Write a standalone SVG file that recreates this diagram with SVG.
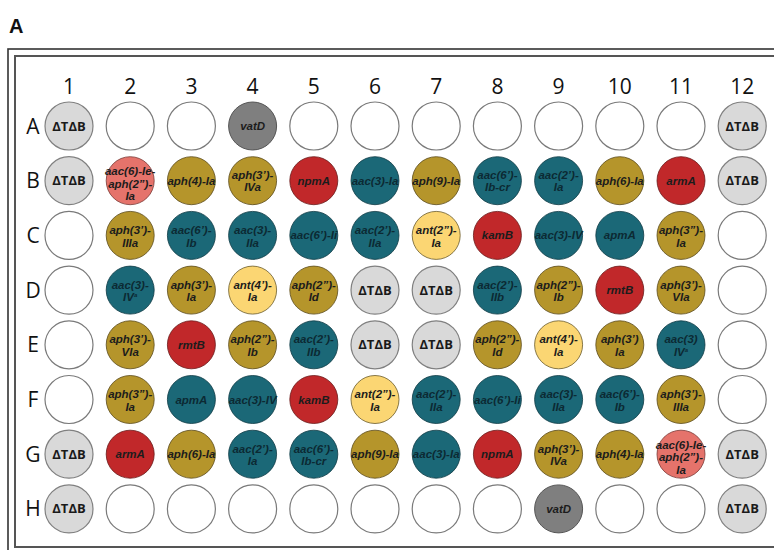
<svg xmlns="http://www.w3.org/2000/svg" width="774" height="550" viewBox="0 0 774 550">
<style>
.frame{fill:none;stroke:#333;stroke-width:1.6}
.frame2{fill:none;stroke:#555;stroke-width:2}
.e{fill:#fff;stroke:#7a7a7a;stroke-width:1.2}
.g{fill:#d9d9d9;stroke:#808080;stroke-width:1.2}
.dg{fill:#7f7f7f;stroke:#555;stroke-width:1}
.gold{fill:#b5952b;stroke:#5a4a1a;stroke-width:0.8}
.teal{fill:#1b6877;stroke:#0e3a44;stroke-width:0.8}
.red{fill:#c1282a;stroke:#6a1a1a;stroke-width:0.8}
.yel{fill:#fbd673;stroke:#6a5a2a;stroke-width:0.8}
.sal{fill:#e5736b;stroke:#7a3a36;stroke-width:0.8}
.lab{font-family:"Liberation Sans",Arial,sans-serif;font-size:11.5px;font-weight:bold;font-style:italic;fill:#1c1c1c;text-anchor:middle}
.lt{fill:#0c2a33}
.dt{font-family:"Open Sans","Liberation Sans",sans-serif;font-size:13px;font-weight:bold;fill:#1a1a1a;text-anchor:middle}
.hd{font-family:"Open Sans","Liberation Sans",sans-serif;font-size:21px;fill:#111;text-anchor:middle}
.ttl{font-family:"Liberation Sans",Arial,sans-serif;font-size:20px;font-weight:bold;fill:#111}
</style>
<rect width="774" height="550" fill="#fff"/>
<text class="ttl" x="9" y="33">A</text>
<rect class="frame" x="8" y="49" width="800" height="510"/>
<rect class="frame2" x="15" y="56" width="800" height="491"/>
<g id="colheads">
<text class="hd" x="69" y="94">1</text><text class="hd" x="130.2" y="94">2</text><text class="hd" x="191.4" y="94">3</text><text class="hd" x="252.6" y="94">4</text><text class="hd" x="313.8" y="94">5</text><text class="hd" x="375" y="94">6</text><text class="hd" x="436.2" y="94">7</text><text class="hd" x="497.4" y="94">8</text><text class="hd" x="558.6" y="94">9</text><text class="hd" x="619.8" y="94">10</text><text class="hd" x="681" y="94">11</text><text class="hd" x="742.2" y="94">12</text>
</g>
<g id="rowheads">
<text class="hd" x="33" y="133.5">A</text><text class="hd" x="33" y="188.2">B</text><text class="hd" x="33" y="242.9">C</text><text class="hd" x="33" y="297.6">D</text><text class="hd" x="33" y="352.3">E</text><text class="hd" x="33" y="407">F</text><text class="hd" x="33" y="461.7">G</text><text class="hd" x="33" y="516.4">H</text>
</g>
<!-- Row A y=126 -->
<g id="A1"><circle class="g" cx="69" cy="126" r="24"/><text class="dt" x="69" y="130.5">ΔTΔB</text></g>
<g id="A2"><circle class="e" cx="130.2" cy="126" r="24"/></g>
<g id="A3"><circle class="e" cx="191.4" cy="126" r="24"/></g>
<g id="A4"><circle class="dg" cx="252.6" cy="126" r="24"/><text class="lab" x="252.6" y="130">vatD</text></g>
<g id="A5"><circle class="e" cx="313.8" cy="126" r="24"/></g>
<g id="A6"><circle class="e" cx="375" cy="126" r="24"/></g>
<g id="A7"><circle class="e" cx="436.2" cy="126" r="24"/></g>
<g id="A8"><circle class="e" cx="497.4" cy="126" r="24"/></g>
<g id="A9"><circle class="e" cx="558.6" cy="126" r="24"/></g>
<g id="A10"><circle class="e" cx="619.8" cy="126" r="24"/></g>
<g id="A11"><circle class="e" cx="681" cy="126" r="24"/></g>
<g id="A12"><circle class="g" cx="742.2" cy="126" r="24"/><text class="dt" x="742.2" y="130.5">ΔTΔB</text></g>
<!-- Row B y=180.7 -->
<g id="B1"><circle class="g" cx="69" cy="180.7" r="24"/><text class="dt" x="69" y="185.2">ΔTΔB</text></g>
<g id="B2"><circle class="sal" cx="130.2" cy="180.7" r="24"/><text class="lab" x="130.2" y="175" font-size="10.5">aac(6)-Ie-</text><text class="lab" x="130.2" y="187.5" font-size="10.5">aph(2”)-</text><text class="lab" x="130.2" y="200" font-size="10.5">Ia</text></g>
<g id="B3"><circle class="gold" cx="191.4" cy="180.7" r="24"/><text class="lab" x="191.4" y="184.7">aph(4)-Ia</text></g>
<g id="B4"><circle class="gold" cx="252.6" cy="180.7" r="24"/><text class="lab" x="252.6" y="178.5">aph(3’)-</text><text class="lab" x="252.6" y="191">IVa</text></g>
<g id="B5"><circle class="red" cx="313.8" cy="180.7" r="24"/><text class="lab" x="313.8" y="184.7">npmA</text></g>
<g id="B6"><circle class="teal" cx="375" cy="180.7" r="24"/><text class="lab lt" x="375" y="184.7">aac(3)-Ia</text></g>
<g id="B7"><circle class="gold" cx="436.2" cy="180.7" r="24"/><text class="lab" x="436.2" y="184.7">aph(9)-Ia</text></g>
<g id="B8"><circle class="teal" cx="497.4" cy="180.7" r="24"/><text class="lab lt" x="497.4" y="178.5">aac(6’)-</text><text class="lab lt" x="497.4" y="191">Ib-cr</text></g>
<g id="B9"><circle class="teal" cx="558.6" cy="180.7" r="24"/><text class="lab lt" x="558.6" y="178.5">aac(2’)-</text><text class="lab lt" x="558.6" y="191">Ia</text></g>
<g id="B10"><circle class="gold" cx="619.8" cy="180.7" r="24"/><text class="lab" x="619.8" y="184.7">aph(6)-Ia</text></g>
<g id="B11"><circle class="red" cx="681" cy="180.7" r="24"/><text class="lab" x="681" y="184.7">armA</text></g>
<g id="B12"><circle class="g" cx="742.2" cy="180.7" r="24"/><text class="dt" x="742.2" y="185.2">ΔTΔB</text></g>
<!-- Row C y=235.4 -->
<g id="C1"><circle class="e" cx="69" cy="235.4" r="24"/></g>
<g id="C2"><circle class="gold" cx="130.2" cy="235.4" r="24"/><text class="lab" x="130.2" y="234">aph(3’)-</text><text class="lab" x="130.2" y="246.5">IIIa</text></g>
<g id="C3"><circle class="teal" cx="191.4" cy="235.4" r="24"/><text class="lab lt" x="191.4" y="234">aac(6’)-</text><text class="lab lt" x="191.4" y="246.5">Ib</text></g>
<g id="C4"><circle class="teal" cx="252.6" cy="235.4" r="24"/><text class="lab lt" x="252.6" y="234">aac(3)-</text><text class="lab lt" x="252.6" y="246.5">IIa</text></g>
<g id="C5"><circle class="teal" cx="313.8" cy="235.4" r="24"/><text class="lab lt" x="313.8" y="239.4">aac(6’)-Ii</text></g>
<g id="C6"><circle class="teal" cx="375" cy="235.4" r="24"/><text class="lab lt" x="375" y="234">aac(2’)-</text><text class="lab lt" x="375" y="246.5">IIa</text></g>
<g id="C7"><circle class="yel" cx="436.2" cy="235.4" r="24"/><text class="lab" x="436.2" y="234">ant(2”)-</text><text class="lab" x="436.2" y="246.5">Ia</text></g>
<g id="C8"><circle class="red" cx="497.4" cy="235.4" r="24"/><text class="lab" x="497.4" y="239.4">kamB</text></g>
<g id="C9"><circle class="teal" cx="558.6" cy="235.4" r="24"/><text class="lab lt" x="558.6" y="239.4">aac(3)-IV</text></g>
<g id="C10"><circle class="teal" cx="619.8" cy="235.4" r="24"/><text class="lab lt" x="619.8" y="239.4">apmA</text></g>
<g id="C11"><circle class="gold" cx="681" cy="235.4" r="24"/><text class="lab" x="681" y="234">aph(3”)-</text><text class="lab" x="681" y="246.5">Ia</text></g>
<g id="C12"><circle class="e" cx="742.2" cy="235.4" r="24"/></g>
<!-- Row D y=290.1 -->
<g id="D1"><circle class="e" cx="69" cy="290.1" r="24"/></g>
<g id="D2"><circle class="teal" cx="130.2" cy="290.1" r="24"/><text class="lab lt" x="130.2" y="288.7">aac(3)-</text><text class="lab lt" x="130.2" y="301.2">IV<tspan font-size="6" dy="-4">a</tspan></text></g>
<g id="D3"><circle class="gold" cx="191.4" cy="290.1" r="24"/><text class="lab" x="191.4" y="288.7">aph(3’)-</text><text class="lab" x="191.4" y="301.2">Ia</text></g>
<g id="D4"><circle class="yel" cx="252.6" cy="290.1" r="24"/><text class="lab" x="252.6" y="288.7">ant(4’)-</text><text class="lab" x="252.6" y="301.2">Ia</text></g>
<g id="D5"><circle class="gold" cx="313.8" cy="290.1" r="24"/><text class="lab" x="313.8" y="288.7">aph(2”)-</text><text class="lab" x="313.8" y="301.2">Id</text></g>
<g id="D6"><circle class="g" cx="375" cy="290.1" r="24"/><text class="dt" x="375" y="294.6">ΔTΔB</text></g>
<g id="D7"><circle class="g" cx="436.2" cy="290.1" r="24"/><text class="dt" x="436.2" y="294.6">ΔTΔB</text></g>
<g id="D8"><circle class="teal" cx="497.4" cy="290.1" r="24"/><text class="lab lt" x="497.4" y="288.7">aac(2’)-</text><text class="lab lt" x="497.4" y="301.2">IIb</text></g>
<g id="D9"><circle class="gold" cx="558.6" cy="290.1" r="24"/><text class="lab" x="558.6" y="288.7">aph(2”)-</text><text class="lab" x="558.6" y="301.2">Ib</text></g>
<g id="D10"><circle class="red" cx="619.8" cy="290.1" r="24"/><text class="lab" x="619.8" y="294.1">rmtB</text></g>
<g id="D11"><circle class="gold" cx="681" cy="290.1" r="24"/><text class="lab" x="681" y="288.7">aph(3’)-</text><text class="lab" x="681" y="301.2">VIa</text></g>
<g id="D12"><circle class="e" cx="742.2" cy="290.1" r="24"/></g>
<!-- Row E y=344.8 -->
<g id="E1"><circle class="e" cx="69" cy="344.8" r="24"/></g>
<g id="E2"><circle class="gold" cx="130.2" cy="344.8" r="24"/><text class="lab" x="130.2" y="343.4">aph(3’)-</text><text class="lab" x="130.2" y="355.9">VIa</text></g>
<g id="E3"><circle class="red" cx="191.4" cy="344.8" r="24"/><text class="lab" x="191.4" y="348.8">rmtB</text></g>
<g id="E4"><circle class="gold" cx="252.6" cy="344.8" r="24"/><text class="lab" x="252.6" y="343.4">aph(2”)-</text><text class="lab" x="252.6" y="355.9">Ib</text></g>
<g id="E5"><circle class="teal" cx="313.8" cy="344.8" r="24"/><text class="lab lt" x="313.8" y="343.4">aac(2’)-</text><text class="lab lt" x="313.8" y="355.9">IIb</text></g>
<g id="E6"><circle class="g" cx="375" cy="344.8" r="24"/><text class="dt" x="375" y="349.3">ΔTΔB</text></g>
<g id="E7"><circle class="g" cx="436.2" cy="344.8" r="24"/><text class="dt" x="436.2" y="349.3">ΔTΔB</text></g>
<g id="E8"><circle class="gold" cx="497.4" cy="344.8" r="24"/><text class="lab" x="497.4" y="343.4">aph(2”)-</text><text class="lab" x="497.4" y="355.9">Id</text></g>
<g id="E9"><circle class="yel" cx="558.6" cy="344.8" r="24"/><text class="lab" x="558.6" y="343.4">ant(4’)-</text><text class="lab" x="558.6" y="355.9">Ia</text></g>
<g id="E10"><circle class="gold" cx="619.8" cy="344.8" r="24"/><text class="lab" x="619.8" y="343.4">aph(3’)</text><text class="lab" x="619.8" y="355.9">Ia</text></g>
<g id="E11"><circle class="teal" cx="681" cy="344.8" r="24"/><text class="lab lt" x="681" y="343.4">aac(3)</text><text class="lab lt" x="681" y="355.9">IV<tspan font-size="6" dy="-4">a</tspan></text></g>
<g id="E12"><circle class="e" cx="742.2" cy="344.8" r="24"/></g>
<!-- Row F y=399.5 -->
<g id="F1"><circle class="e" cx="69" cy="399.5" r="24"/></g>
<g id="F2"><circle class="gold" cx="130.2" cy="399.5" r="24"/><text class="lab" x="130.2" y="398.1">aph(3”)-</text><text class="lab" x="130.2" y="410.6">Ia</text></g>
<g id="F3"><circle class="teal" cx="191.4" cy="399.5" r="24"/><text class="lab lt" x="191.4" y="403.5">apmA</text></g>
<g id="F4"><circle class="teal" cx="252.6" cy="399.5" r="24"/><text class="lab lt" x="252.6" y="403.5">aac(3)-IV</text></g>
<g id="F5"><circle class="red" cx="313.8" cy="399.5" r="24"/><text class="lab" x="313.8" y="403.5">kamB</text></g>
<g id="F6"><circle class="yel" cx="375" cy="399.5" r="24"/><text class="lab" x="375" y="398.1">ant(2”)-</text><text class="lab" x="375" y="410.6">Ia</text></g>
<g id="F7"><circle class="teal" cx="436.2" cy="399.5" r="24"/><text class="lab lt" x="436.2" y="398.1">aac(2’)-</text><text class="lab lt" x="436.2" y="410.6">IIa</text></g>
<g id="F8"><circle class="teal" cx="497.4" cy="399.5" r="24"/><text class="lab lt" x="497.4" y="403.5">aac(6’)-Ii</text></g>
<g id="F9"><circle class="teal" cx="558.6" cy="399.5" r="24"/><text class="lab lt" x="558.6" y="398.1">aac(3)-</text><text class="lab lt" x="558.6" y="410.6">IIa</text></g>
<g id="F10"><circle class="teal" cx="619.8" cy="399.5" r="24"/><text class="lab lt" x="619.8" y="398.1">aac(6’)-</text><text class="lab lt" x="619.8" y="410.6">Ib</text></g>
<g id="F11"><circle class="gold" cx="681" cy="399.5" r="24"/><text class="lab" x="681" y="398.1">aph(3’)-</text><text class="lab" x="681" y="410.6">IIIa</text></g>
<g id="F12"><circle class="e" cx="742.2" cy="399.5" r="24"/></g>
<!-- Row G y=454.2 -->
<g id="G1"><circle class="g" cx="69" cy="454.2" r="24"/><text class="dt" x="69" y="458.7">ΔTΔB</text></g>
<g id="G2"><circle class="red" cx="130.2" cy="454.2" r="24"/><text class="lab" x="130.2" y="458.2">armA</text></g>
<g id="G3"><circle class="gold" cx="191.4" cy="454.2" r="24"/><text class="lab" x="191.4" y="458.2">aph(6)-Ia</text></g>
<g id="G4"><circle class="teal" cx="252.6" cy="454.2" r="24"/><text class="lab lt" x="252.6" y="452.8">aac(2’)-</text><text class="lab lt" x="252.6" y="465.3">Ia</text></g>
<g id="G5"><circle class="teal" cx="313.8" cy="454.2" r="24"/><text class="lab lt" x="313.8" y="452.8">aac(6’)-</text><text class="lab lt" x="313.8" y="465.3">Ib-cr</text></g>
<g id="G6"><circle class="gold" cx="375" cy="454.2" r="24"/><text class="lab" x="375" y="458.2">aph(9)-Ia</text></g>
<g id="G7"><circle class="teal" cx="436.2" cy="454.2" r="24"/><text class="lab lt" x="436.2" y="458.2">aac(3)-Ia</text></g>
<g id="G8"><circle class="red" cx="497.4" cy="454.2" r="24"/><text class="lab" x="497.4" y="458.2">npmA</text></g>
<g id="G9"><circle class="gold" cx="558.6" cy="454.2" r="24"/><text class="lab" x="558.6" y="452.8">aph(3’)-</text><text class="lab" x="558.6" y="465.3">IVa</text></g>
<g id="G10"><circle class="gold" cx="619.8" cy="454.2" r="24"/><text class="lab" x="619.8" y="458.2">aph(4)-Ia</text></g>
<g id="G11"><circle class="sal" cx="681" cy="454.2" r="24"/><text class="lab" x="681" y="448.5" font-size="10.5">aac(6)-Ie-</text><text class="lab" x="681" y="461" font-size="10.5">aph(2”)-</text><text class="lab" x="681" y="473.5" font-size="10.5">Ia</text></g>
<g id="G12"><circle class="g" cx="742.2" cy="454.2" r="24"/><text class="dt" x="742.2" y="458.7">ΔTΔB</text></g>
<!-- Row H y=508.9 -->
<g id="H1"><circle class="g" cx="69" cy="508.9" r="24"/><text class="dt" x="69" y="513.4">ΔTΔB</text></g>
<g id="H2"><circle class="e" cx="130.2" cy="508.9" r="24"/></g>
<g id="H3"><circle class="e" cx="191.4" cy="508.9" r="24"/></g>
<g id="H4"><circle class="e" cx="252.6" cy="508.9" r="24"/></g>
<g id="H5"><circle class="e" cx="313.8" cy="508.9" r="24"/></g>
<g id="H6"><circle class="e" cx="375" cy="508.9" r="24"/></g>
<g id="H7"><circle class="e" cx="436.2" cy="508.9" r="24"/></g>
<g id="H8"><circle class="e" cx="497.4" cy="508.9" r="24"/></g>
<g id="H9"><circle class="dg" cx="558.6" cy="508.9" r="24"/><text class="lab" x="558.6" y="512.9">vatD</text></g>
<g id="H10"><circle class="e" cx="619.8" cy="508.9" r="24"/></g>
<g id="H11"><circle class="e" cx="681" cy="508.9" r="24"/></g>
<g id="H12"><circle class="g" cx="742.2" cy="508.9" r="24"/><text class="dt" x="742.2" y="513.4">ΔTΔB</text></g>
<g id="connectors"/>
</svg>
